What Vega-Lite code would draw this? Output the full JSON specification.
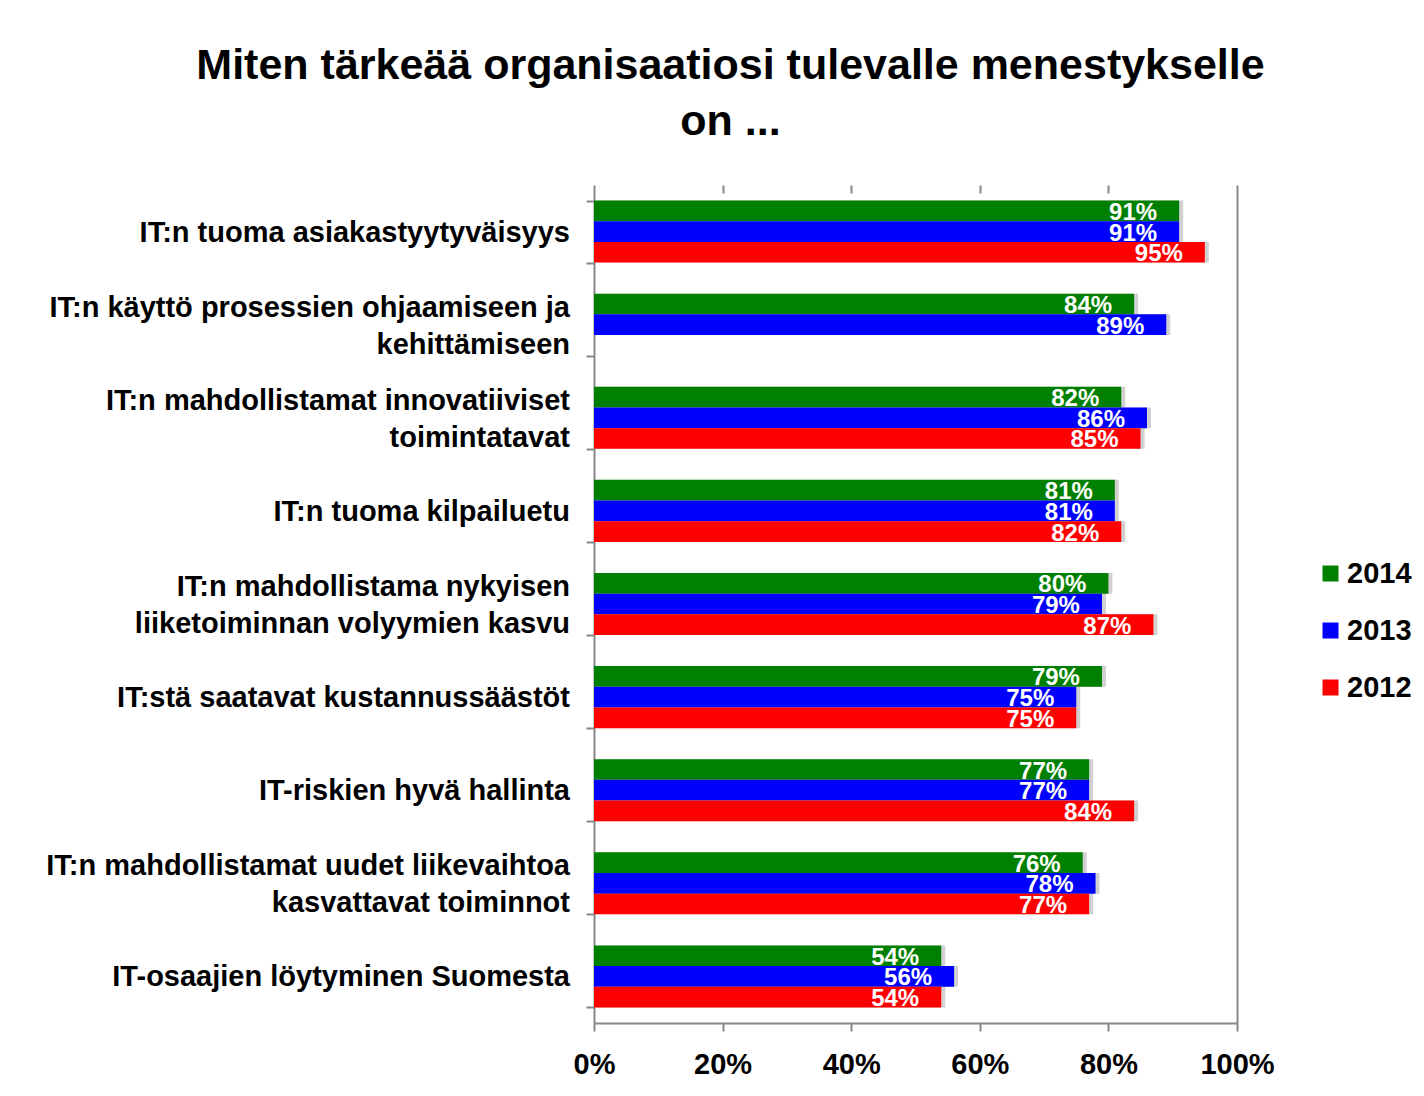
{
  "$schema": "https://vega.github.io/schema/vega-lite/v6.json",
  "width": 643,
  "height": 838,
  "autosize": {"type": "none"},
  "padding": {"left": 594, "top": 185, "right": 187, "bottom": 73},
  "background": "white",
  "title": {
    "text": ["Miten tärkeää organisaatiosi tulevalle menestykselle", "on ..."],
    "font": "Liberation Sans, Arial, sans-serif",
    "fontSize": 43,
    "fontWeight": "bold",
    "color": "black",
    "anchor": "middle",
    "frame": "group",
    "dx": -185,
    "offset": 40,
    "lineHeight": 56
  },
  "config": {"view": {"stroke": null}},
  "resolve": {"axis": {"x": "independent", "y": "independent"}},
  "data": {
    "values": [
      {"category": "IT:n tuoma asiakastyytyväisyys", "year": "2014", "value": 0.91},
      {"category": "IT:n tuoma asiakastyytyväisyys", "year": "2013", "value": 0.91},
      {"category": "IT:n tuoma asiakastyytyväisyys", "year": "2012", "value": 0.95},
      {"category": "IT:n käyttö prosessien ohjaamiseen ja|kehittämiseen", "year": "2014", "value": 0.84},
      {"category": "IT:n käyttö prosessien ohjaamiseen ja|kehittämiseen", "year": "2013", "value": 0.89},
      {"category": "IT:n mahdollistamat innovatiiviset|toimintatavat", "year": "2014", "value": 0.82},
      {"category": "IT:n mahdollistamat innovatiiviset|toimintatavat", "year": "2013", "value": 0.86},
      {"category": "IT:n mahdollistamat innovatiiviset|toimintatavat", "year": "2012", "value": 0.85},
      {"category": "IT:n tuoma kilpailuetu", "year": "2014", "value": 0.81},
      {"category": "IT:n tuoma kilpailuetu", "year": "2013", "value": 0.81},
      {"category": "IT:n tuoma kilpailuetu", "year": "2012", "value": 0.82},
      {"category": "IT:n mahdollistama nykyisen|liiketoiminnan volyymien kasvu", "year": "2014", "value": 0.80},
      {"category": "IT:n mahdollistama nykyisen|liiketoiminnan volyymien kasvu", "year": "2013", "value": 0.79},
      {"category": "IT:n mahdollistama nykyisen|liiketoiminnan volyymien kasvu", "year": "2012", "value": 0.87},
      {"category": "IT:stä saatavat kustannussäästöt", "year": "2014", "value": 0.79},
      {"category": "IT:stä saatavat kustannussäästöt", "year": "2013", "value": 0.75},
      {"category": "IT:stä saatavat kustannussäästöt", "year": "2012", "value": 0.75},
      {"category": "IT-riskien hyvä hallinta", "year": "2014", "value": 0.77},
      {"category": "IT-riskien hyvä hallinta", "year": "2013", "value": 0.77},
      {"category": "IT-riskien hyvä hallinta", "year": "2012", "value": 0.84},
      {"category": "IT:n mahdollistamat uudet liikevaihtoa|kasvattavat toiminnot", "year": "2014", "value": 0.76},
      {"category": "IT:n mahdollistamat uudet liikevaihtoa|kasvattavat toiminnot", "year": "2013", "value": 0.78},
      {"category": "IT:n mahdollistamat uudet liikevaihtoa|kasvattavat toiminnot", "year": "2012", "value": 0.77},
      {"category": "IT-osaajien löytyminen Suomesta", "year": "2014", "value": 0.54},
      {"category": "IT-osaajien löytyminen Suomesta", "year": "2013", "value": 0.56},
      {"category": "IT-osaajien löytyminen Suomesta", "year": "2012", "value": 0.54}
    ]
  },
  "encoding": {
    "y": {
      "field": "category",
      "type": "nominal",
      "sort": null,
      "scale": {"paddingInner": 0.333, "paddingOuter": 0.1667}
    },
    "x": {
      "field": "value",
      "type": "quantitative",
      "scale": {"domain": [0, 1], "nice": false}
    }
  },
  "layer": [
    {
      "mark": {"type": "bar", "color": "#9a9a9a", "opacity": 0.45, "xOffset": 4, "yOffset": 3},
      "encoding": {
        "yOffset": {
          "field": "year",
          "type": "nominal",
          "sort": ["2014", "2013", "2012"],
          "scale": {"domain": ["2014", "2013", "2012"], "paddingInner": 0, "paddingOuter": 0}
        },
        "x": {
          "field": "value",
          "type": "quantitative",
          "axis": {
            "orient": "top",
            "title": null,
            "labels": false,
            "domain": false,
            "grid": false,
            "values": [0.2, 0.4, 0.6, 0.8],
            "tickSize": -8,
            "tickColor": "#888888",
            "tickWidth": 2
          }
        },
        "y": {
          "field": "category",
          "type": "nominal",
          "sort": null,
          "axis": {
            "orient": "right",
            "title": null,
            "labels": false,
            "ticks": false,
            "grid": false,
            "domainColor": "#888888",
            "domainWidth": 2
          }
        }
      }
    },
    {
      "mark": {"type": "bar"},
      "encoding": {
        "yOffset": {"field": "year", "type": "nominal", "sort": ["2014", "2013", "2012"]},
        "x": {
          "field": "value",
          "type": "quantitative",
          "axis": {
            "orient": "bottom",
            "title": null,
            "values": [0, 0.2, 0.4, 0.6, 0.8, 1],
            "format": ".0%",
            "grid": false,
            "labelFlush": false,
            "labelFont": "Liberation Sans, Arial, sans-serif",
            "labelFontSize": 29,
            "labelFontWeight": "bold",
            "labelColor": "black",
            "labelPadding": 19,
            "tickSize": 8,
            "tickColor": "#888888",
            "tickWidth": 2,
            "domainColor": "#888888",
            "domainWidth": 2
          }
        },
        "y": {
          "field": "category",
          "type": "nominal",
          "sort": null,
          "axis": {
            "orient": "left",
            "title": null,
            "labels": false,
            "tickBand": "extent",
            "tickSize": 8,
            "tickColor": "#888888",
            "tickWidth": 2,
            "domainColor": "#888888",
            "domainWidth": 2
          }
        },
        "color": {
          "field": "year",
          "type": "nominal",
          "scale": {"domain": ["2014", "2013", "2012"], "range": ["#008000", "#0000ff", "#ff0000"]},
          "legend": {
            "title": null,
            "orient": "none",
            "legendX": 722,
            "legendY": 374,
            "symbolType": "square",
            "symbolSize": 256,
            "symbolStrokeWidth": 0,
            "labelFont": "Liberation Sans, Arial, sans-serif",
            "labelFontSize": 29,
            "labelFontWeight": "bold",
            "labelColor": "black",
            "labelOffset": 2,
            "rowPadding": 27
          }
        }
      }
    },
    {
      "mark": {
        "type": "text",
        "align": "right",
        "baseline": "middle",
        "dx": -22,
        "dy": 2,
        "color": "white",
        "font": "Liberation Sans, Arial, sans-serif",
        "fontSize": 24,
        "fontWeight": "bold"
      },
      "encoding": {
        "yOffset": {"field": "year", "type": "nominal", "sort": ["2014", "2013", "2012"]},
        "x": {"field": "value", "type": "quantitative", "axis": null},
        "y": {"field": "category", "type": "nominal", "sort": null, "axis": null},
        "text": {"field": "value", "type": "quantitative", "format": ".0%"}
      }
    },
    {
      "transform": [
        {"filter": "datum.year == '2014'"},
        {"filter": "indexof(datum.category, '|') < 0"}
      ],
      "mark": {
        "type": "text",
        "align": "right",
        "baseline": "middle",
        "dx": -24,
        "dy": 1,
        "color": "black",
        "font": "Liberation Sans, Arial, sans-serif",
        "fontSize": 29,
        "fontWeight": "bold"
      },
      "encoding": {
        "x": {"datum": 0, "type": "quantitative", "axis": null},
        "y": {"field": "category", "type": "nominal", "sort": null, "axis": null},
        "text": {"field": "category", "type": "nominal"}
      }
    },
    {
      "transform": [
        {"filter": "datum.year == '2014'"},
        {"filter": "indexof(datum.category, '|') >= 0"}
      ],
      "mark": {
        "type": "text",
        "align": "right",
        "baseline": "middle",
        "dx": -24,
        "dy": -17,
        "lineBreak": "|",
        "lineHeight": 37,
        "color": "black",
        "font": "Liberation Sans, Arial, sans-serif",
        "fontSize": 29,
        "fontWeight": "bold"
      },
      "encoding": {
        "x": {"datum": 0, "type": "quantitative", "axis": null},
        "y": {"field": "category", "type": "nominal", "sort": null, "axis": null},
        "text": {"field": "category", "type": "nominal"}
      }
    }
  ]
}
